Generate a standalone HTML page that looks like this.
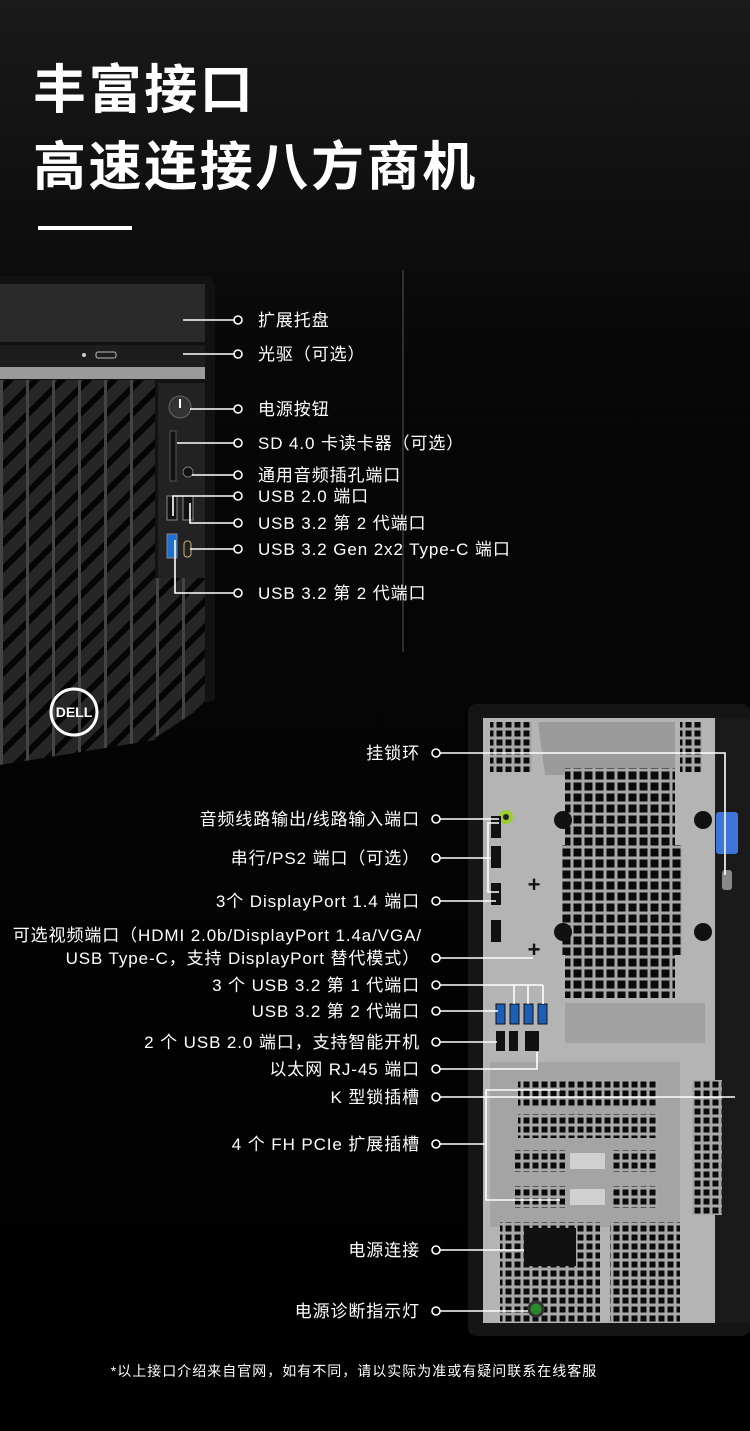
<!DOCTYPE html>
<html><head><meta charset="utf-8"><style>
html,body{margin:0;padding:0;background:#000}
svg{display:block}
text{font-family:"Liberation Sans","Noto Sans CJK SC",sans-serif;fill:#fff}
</style></head><body>
<svg width="750" height="1431" viewBox="0 0 750 1431" xmlns="http://www.w3.org/2000/svg">
<defs>
<linearGradient id="bg" x1="0" y1="0" x2="0" y2="1">
<stop offset="0" stop-color="#1a1a1a"/><stop offset="0.25" stop-color="#070707"/><stop offset="1" stop-color="#000"/>
</linearGradient>
<pattern id="stripe" width="26" height="26" patternUnits="userSpaceOnUse">
<rect width="26" height="26" fill="#262626"/>
<path d="M-6 32 L32 -6" stroke="#050505" stroke-width="6"/>
<path d="M-19 19 L19 -19 M7 45 L45 7" stroke="#050505" stroke-width="6"/>
<rect x="0" y="0" width="3" height="26" fill="#444"/>
</pattern>
<pattern id="grid" width="11" height="11" patternUnits="userSpaceOnUse">
<rect width="11" height="11" fill="#a8a8a8"/><rect x="1.5" y="1.5" width="8" height="8" fill="#0a0a0a"/>
</pattern>
<pattern id="grid2" width="9" height="9" patternUnits="userSpaceOnUse">
<rect width="9" height="9" fill="#a8a8a8"/><rect x="1.5" y="1.5" width="6" height="6" fill="#0a0a0a"/>
</pattern>
</defs>
<rect width="750" height="1431" fill="url(#bg)"/>

<text x="33" y="108" font-size="53" font-weight="bold" letter-spacing="2.6">丰富接口</text>
<text x="33" y="185" font-size="53" font-weight="bold" letter-spacing="2.6">高速连接八方商机</text>
<rect x="38" y="226" width="94" height="4" fill="#fff"/>

<!-- front tower -->
<line x1="403" y1="270" x2="403" y2="652" stroke="#555" stroke-width="1"/>
<path d="M0 276 L205 276 Q215 278 215 290 L215 700 L0 765 Z" fill="#121212"/>
<rect x="0" y="284" width="205" height="58" fill="#2a2a2a"/>
<rect x="0" y="345" width="205" height="22" fill="#1d1d1d"/>
<rect x="0" y="367" width="205" height="12" fill="#9a9a9a"/>
<rect x="96" y="352" width="20" height="6" rx="2" fill="none" stroke="#bbb"/>
<circle cx="84" cy="355" r="2" fill="#ccc"/>
<path d="M0 380 L155 380 L155 740 L0 765 Z" fill="url(#stripe)"/>
<path d="M155 578 L205 578 L205 705 L155 738 Z" fill="url(#stripe)"/>
<rect x="158" y="383" width="47" height="195" fill="#222"/>
<circle cx="180" cy="407" r="11" fill="#333" stroke="#666"/>
<line x1="180" y1="399" x2="180" y2="408" stroke="#fff" stroke-width="2"/>
<rect x="170" y="431" width="6" height="50" fill="#111" stroke="#555"/>
<circle cx="188" cy="472" r="5" fill="#111" stroke="#777"/>
<rect x="167" y="496" width="10" height="24" fill="#111" stroke="#888"/>
<rect x="183" y="496" width="10" height="24" fill="#111" stroke="#888"/>
<rect x="167" y="534" width="10" height="24" fill="#1d6fd8" stroke="#888"/>
<rect x="184" y="541" width="7" height="16" rx="3" fill="#222" stroke="#c9b27a"/>
<circle cx="74" cy="712" r="23" fill="none" stroke="#fff" stroke-width="3"/>
<text x="74" y="717" font-size="14" font-weight="bold" text-anchor="middle">DELL</text>

<g stroke="#fff" stroke-width="1.6" fill="none">
<path d="M183 320 H234"/><path d="M183 354 H234"/><path d="M190 409 H234"/>
<path d="M177 443 H234"/><path d="M192 475 H234"/>
<path d="M173 516 V496 H234"/><path d="M190 503 V523 H234"/>
<path d="M190 549 H234"/><path d="M175 540 V593 H234"/>
</g>
<g fill="#000" stroke="#fff" stroke-width="1.6">
<circle cx="238" cy="320" r="4"/><circle cx="238" cy="354" r="4"/><circle cx="238" cy="409" r="4"/>
<circle cx="238" cy="443" r="4"/><circle cx="238" cy="475" r="4"/><circle cx="238" cy="496" r="4"/>
<circle cx="238" cy="523" r="4"/><circle cx="238" cy="549" r="4"/><circle cx="238" cy="593" r="4"/>
</g>
<g font-size="17" letter-spacing="0.9">
<text x="258" y="326">扩展托盘</text>
<text x="258" y="360">光驱（可选）</text>
<text x="258" y="415">电源按钮</text>
<text x="258" y="449">SD 4.0 卡读卡器（可选）</text>
<text x="258" y="481">通用音频插孔端口</text>
<text x="258" y="502">USB 2.0 端口</text>
<text x="258" y="529">USB 3.2 第 2 代端口</text>
<text x="258" y="555">USB 3.2 Gen 2x2 Type-C 端口</text>
<text x="258" y="599">USB 3.2 第 2 代端口</text>
</g>

<!-- rear -->
<rect x="468" y="704" width="282" height="632" rx="8" fill="#151515"/>
<rect x="483" y="718" width="232" height="605" fill="#b4b4b4"/>
<rect x="715" y="718" width="35" height="605" fill="#1a1a1a"/>
<rect x="490" y="722" width="42" height="50" fill="url(#grid2)"/>
<rect x="680" y="722" width="22" height="50" fill="url(#grid2)"/>
<path d="M538 722 H675 V775 H545 Z" fill="#9b9b9b"/>
<rect x="565" y="768" width="110" height="230" fill="url(#grid)"/>
<rect x="562" y="845" width="120" height="110" fill="url(#grid)"/>
<circle cx="563" cy="820" r="9" fill="#111"/><circle cx="703" cy="820" r="9" fill="#111"/>
<circle cx="563" cy="932" r="9" fill="#111"/><circle cx="703" cy="932" r="9" fill="#111"/>
<rect x="565" y="1003" width="140" height="40" fill="#a2a2a2"/>
<rect x="716" y="812" width="22" height="42" rx="3" fill="#3f74d8"/>
<rect x="722" y="870" width="10" height="20" rx="3" fill="#888"/>
<circle cx="506" cy="817" r="7" fill="#9acd32"/><circle cx="506" cy="817" r="3" fill="#222"/>
<rect x="491" y="816" width="10" height="22" fill="#111"/>
<rect x="491" y="846" width="10" height="22" fill="#111"/>
<rect x="491" y="883" width="10" height="22" fill="#111"/>
<rect x="491" y="920" width="10" height="22" fill="#111"/>
<text x="534" y="892" font-size="22" font-weight="bold" style="fill:#111" text-anchor="middle">+</text>
<text x="534" y="957" font-size="22" font-weight="bold" style="fill:#111" text-anchor="middle">+</text>
<rect x="496" y="1004" width="9" height="20" fill="#1d5fb8" stroke="#111"/>
<rect x="510" y="1004" width="9" height="20" fill="#1d5fb8" stroke="#111"/>
<rect x="524" y="1004" width="9" height="20" fill="#1d5fb8" stroke="#111"/>
<rect x="538" y="1004" width="9" height="20" fill="#1d5fb8" stroke="#111"/>
<rect x="496" y="1031" width="9" height="20" fill="#111"/><rect x="509" y="1031" width="9" height="20" fill="#111"/>
<rect x="525" y="1031" width="14" height="20" fill="#111"/>
<rect x="490" y="1062" width="190" height="165" fill="#a4a4a4"/>
<rect x="518" y="1080" width="140" height="26" fill="url(#grid2)"/>
<rect x="518" y="1114" width="140" height="24" fill="url(#grid2)"/>
<rect x="515" y="1150" width="50" height="22" fill="url(#grid2)"/>
<rect x="612" y="1150" width="45" height="22" fill="url(#grid2)"/>
<rect x="515" y="1186" width="50" height="22" fill="url(#grid2)"/>
<rect x="612" y="1186" width="45" height="22" fill="url(#grid2)"/>
<rect x="570" y="1153" width="35" height="16" fill="#d0d0d0"/>
<rect x="570" y="1189" width="35" height="16" fill="#d0d0d0"/>
<rect x="692" y="1080" width="30" height="135" fill="url(#grid2)"/>
<rect x="500" y="1222" width="100" height="100" fill="url(#grid2)"/>
<rect x="610" y="1222" width="70" height="100" fill="url(#grid2)"/>
<rect x="524" y="1228" width="52" height="38" fill="#111"/>
<circle cx="536" cy="1309" r="7" fill="#2a8a2a" stroke="#333" stroke-width="3"/>

<g stroke="#fff" stroke-width="1.6" fill="none">
<path d="M440 753 H725 V875"/>
<path d="M440 819 H499"/>
<path d="M440 858 H491 M499 823 H488 V892 H499"/>
<path d="M440 901 H496"/>
<path d="M440 958 H533"/>
<path d="M440 985 H543 M514 985 V1004 M528 985 V1004 M543 985 V1004"/>
<path d="M440 1011 H498"/>
<path d="M440 1042 H497"/>
<path d="M440 1069 H537 V1052"/>
<path d="M440 1097 H735"/>
<path d="M440 1144 H486 V1090 H560 M486 1144 V1200 H560"/>
<path d="M440 1250 H524"/>
<path d="M440 1311 H528"/>
</g>
<g fill="#000" stroke="#fff" stroke-width="1.6">
<circle cx="436" cy="753" r="4"/><circle cx="436" cy="819" r="4"/><circle cx="436" cy="858" r="4"/>
<circle cx="436" cy="901" r="4"/><circle cx="436" cy="958" r="4"/><circle cx="436" cy="985" r="4"/>
<circle cx="436" cy="1011" r="4"/><circle cx="436" cy="1042" r="4"/><circle cx="436" cy="1069" r="4"/>
<circle cx="436" cy="1097" r="4"/><circle cx="436" cy="1144" r="4"/><circle cx="436" cy="1250" r="4"/>
<circle cx="436" cy="1311" r="4"/>
</g>
<g font-size="17" letter-spacing="0.9" text-anchor="end">
<text x="420" y="759">挂锁环</text>
<text x="420" y="825">音频线路输出/线路输入端口</text>
<text x="420" y="864">串行/PS2 端口（可选）</text>
<text x="420" y="907">3个 DisplayPort 1.4 端口</text>
<text x="422" y="941">可选视频端口（HDMI 2.0b/DisplayPort 1.4a/VGA/</text>
<text x="420" y="964">USB Type-C，支持 DisplayPort 替代模式）</text>
<text x="420" y="991">3 个 USB 3.2 第 1 代端口</text>
<text x="420" y="1017">USB 3.2 第 2 代端口</text>
<text x="420" y="1048">2 个 USB 2.0 端口，支持智能开机</text>
<text x="420" y="1075">以太网 RJ-45 端口</text>
<text x="420" y="1103">K 型锁插槽</text>
<text x="420" y="1150">4 个 FH PCIe 扩展插槽</text>
<text x="420" y="1256">电源连接</text>
<text x="420" y="1317">电源诊断指示灯</text>
</g>
<text x="354" y="1376" font-size="14" letter-spacing="1" text-anchor="middle">*以上接口介绍来自官网，如有不同，请以实际为准或有疑问联系在线客服</text>
</svg>
</body></html>
